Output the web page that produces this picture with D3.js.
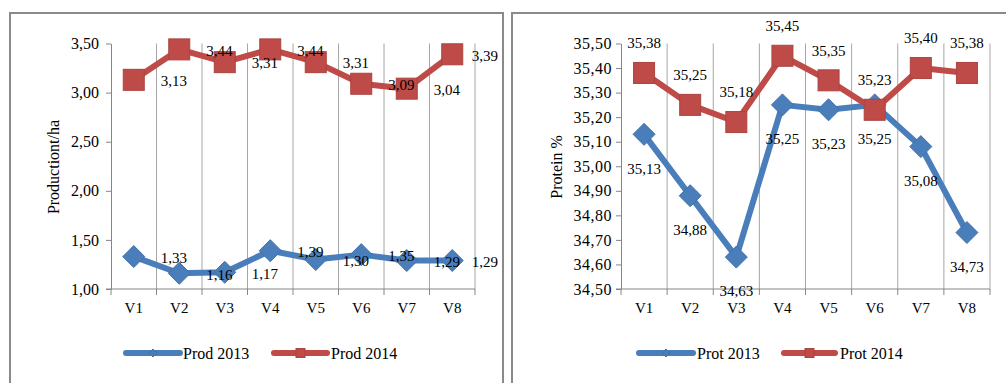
<!DOCTYPE html>
<html>
<head>
<meta charset="utf-8">
<script src="https://cdn.jsdelivr.net/npm/d3@7"></script>
<style>
  body { margin: 0; background: #fff; }
  svg { display: block; }
  text { font-family: "Liberation Serif", "Times New Roman", serif; fill: #000; }
</style>
</head>
<body>
<svg id="chart" width="1006" height="383"></svg>
<script>
// Varieties on the x axis
const categories = ["V1", "V2", "V3", "V4", "V5", "V6", "V7", "V8"];

// Production (t/ha)
const prod2013 = [1.33, 1.16, 1.17, 1.39, 1.30, 1.35, 1.29, 1.29];
const prod2014 = [3.13, 3.44, 3.31, 3.44, 3.31, 3.09, 3.04, 3.39];
const prodTicks = [1.00, 1.50, 2.00, 2.50, 3.00, 3.50];

// Protein content (%)
const prot2013 = [35.13, 34.88, 34.63, 35.25, 35.23, 35.25, 35.08, 34.73];
const prot2014 = [35.38, 35.25, 35.18, 35.45, 35.35, 35.23, 35.40, 35.38];
const protTicks = [34.50, 34.60, 34.70, 34.80, 34.90, 35.00, 35.10, 35.20, 35.30, 35.40, 35.50];

const seriesNames = {
  prod: ["Prod 2013", "Prod 2014"],
  prot: ["Prot 2013", "Prot 2014"]
};

const BLUE = "#4a7ebb";
const RED = "#be4b48";
const GRID = "#a6a6a6";
const AXIS = "#868686";

const locale = d3.formatLocale({ decimal: ",", thousands: ".", grouping: [3], currency: ["", ""] });
const fmt = locale.format(".2f");

const svg = d3.select("#chart");

function marker(sel, shape, color, size) {
  if (shape === "square") {
    sel.append("rect")
      .attr("x", -size / 2).attr("y", -size / 2)
      .attr("width", size).attr("height", size)
      .attr("fill", color).attr("stroke", d3.color(color).darker(0.3)).attr("stroke-width", 1);
  } else {
    const h = size / 2;
    sel.append("path")
      .attr("d", `M0,${-h}L${h},0L0,${h}L${-h},0Z`)
      .attr("fill", color).attr("stroke", d3.color(color).darker(0.3)).attr("stroke-width", 1);
  }
}

function drawPanel(cfg) {
  const g = svg.append("g");

  // panel frame
  g.append("rect")
    .attr("x", cfg.frame[0]).attr("y", cfg.frame[1])
    .attr("width", cfg.frame[2]).attr("height", cfg.frame[3])
    .attr("fill", "none").attr("stroke", "#8a8a8a").attr("stroke-width", 2);

  const x = d3.scaleBand().domain(categories).range([cfg.x0, cfg.x1]).padding(0);
  const y = d3.scaleLinear().domain(cfg.domain).range([cfg.yBottom, cfg.yTop]);
  const bw = x.bandwidth();

  // vertical gridlines at category boundaries
  const bounds = d3.range(categories.length + 1).map(i => cfg.x0 + i * bw);
  g.selectAll(".grid").data(bounds.slice(1)).join("line")
    .attr("x1", d => d).attr("x2", d => d)
    .attr("y1", cfg.yTop).attr("y2", cfg.yBottom)
    .attr("stroke", GRID).attr("stroke-width", 1);

  // x-axis line and boundary tick marks
  g.append("line")
    .attr("x1", cfg.x0 - 5).attr("x2", cfg.x1)
    .attr("y1", cfg.yBottom).attr("y2", cfg.yBottom)
    .attr("stroke", AXIS).attr("stroke-width", 1);
  g.selectAll(".xtick").data(bounds).join("line")
    .attr("x1", d => d).attr("x2", d => d)
    .attr("y1", cfg.yBottom).attr("y2", cfg.yBottom + 6)
    .attr("stroke", AXIS).attr("stroke-width", 1);

  // category labels
  g.selectAll(".xlab").data(categories).join("text")
    .attr("x", d => x(d) + bw / 2)
    .attr("y", cfg.yBottom + 19)
    .attr("dy", "0.35em")
    .attr("text-anchor", "middle")
    .style("font-size", "15px")
    .text(d => d);

  // y axis
  const yAxis = d3.axisLeft(y)
    .tickValues(cfg.ticks)
    .tickFormat(fmt)
    .tickSize(5)
    .tickSizeOuter(0)
    .tickPadding(cfg.tickPad);
  const ya = g.append("g").attr("transform", `translate(${cfg.x0},0)`).call(yAxis);
  ya.select(".domain").attr("stroke", AXIS);
  ya.selectAll(".tick line").attr("stroke", AXIS);
  ya.selectAll(".tick text")
    .attr("fill", "#000")
    .style("font-family", '"Liberation Serif", "Times New Roman", serif')
    .style("font-size", cfg.tickFont)
    .style("letter-spacing", cfg.tickSpacing);

  // y axis title
  g.append("text")
    .attr("transform", `translate(${cfg.titleX},${cfg.titleY}) rotate(-90)`)
    .attr("text-anchor", "middle")
    .attr("dy", "0.35em")
    .style("font-size", "16px")
    .text(cfg.title);

  const line = d3.line()
    .x((d, i) => x(categories[i]) + bw / 2)
    .y(d => y(d));

  const series = [
    { values: cfg.s1, color: BLUE, shape: "diamond" },
    { values: cfg.s2, color: RED, shape: "square" }
  ];

  series.forEach(s => {
    g.append("path")
      .datum(s.values)
      .attr("d", line)
      .attr("fill", "none")
      .attr("stroke", s.color)
      .attr("stroke-width", 6)
      .attr("stroke-linejoin", "round");
    g.selectAll(null).data(s.values).join("g")
      .attr("transform", (d, i) => `translate(${x(categories[i]) + bw / 2},${y(d)})`)
      .each(function () { marker(d3.select(this), s.shape, s.color, s.shape === "square" ? 21 : 22); });
  });

  // data labels
  series.forEach((s, si) => {
    const pos = cfg.labelPos[si];
    g.selectAll(null).data(s.values).join("text")
      .style("font-size", "15px")
      .attr("dy", "0.35em")
      .attr("text-anchor", pos === "right" ? "start" : "middle")
      .attr("x", (d, i) => x(categories[i]) + bw / 2 + (pos === "right" ? 27 : 0))
      .attr("y", d => y(d) + (pos === "above" ? -30 : pos === "below" ? 34 : 1))
      .text(d => fmt(d))
      .each(function () {
        if (pos !== "right") return;
        const el = d3.select(this);
        const len = this.getComputedTextLength();
        const xs = +el.attr("x");
        if (xs + len > cfg.labelLimit) el.attr("x", cfg.labelLimit - len);
      });
  });

  // legend
  const names = cfg.names;
  series.forEach((s, i) => {
    const [lx0, lx1, tx] = cfg.legend[i];
    const ly = 353;
    g.append("line")
      .attr("x1", lx0).attr("x2", lx1).attr("y1", ly).attr("y2", ly)
      .attr("stroke", s.color).attr("stroke-width", 6).attr("stroke-linecap", "round");
    const m = g.append("g").attr("transform", `translate(${(lx0 + lx1) / 2},${ly})`);
    marker(m, s.shape, s.color, s.shape === "square" ? 9 : 8);
    g.append("text")
      .attr("x", tx).attr("y", ly).attr("dy", "0.35em")
      .style("font-size", "16px")
      .text(names[i]);
  });
}

drawPanel({
  frame: [10, 13, 493, 380],
  x0: 111, x1: 475, yTop: 43.5, yBottom: 289,
  domain: [1.0, 3.5], ticks: prodTicks,
  tickPad: 7, tickFont: "16px", tickSpacing: "0px",
  title: "Productiont/ha", titleX: 53, titleY: 167,
  s1: prod2013, s2: prod2014,
  labelPos: ["right", "right"], labelLimit: 498,
  names: seriesNames.prod,
  legend: [[126, 180, 183], [274, 327, 331]]
});

drawPanel({
  frame: [512, 13, 510, 380],
  x0: 621, x1: 990, yTop: 43.5, yBottom: 289,
  domain: [34.5, 35.5], ticks: protTicks,
  tickPad: 4, tickFont: "16px", tickSpacing: "0.5px",
  title: "Protein %", titleX: 556, titleY: 167,
  s1: prot2013, s2: prot2014,
  labelPos: ["below", "above"], labelLimit: 1006,
  names: seriesNames.prot,
  legend: [[639, 693, 697], [784, 835, 840]]
});
</script>
</body>
</html>
